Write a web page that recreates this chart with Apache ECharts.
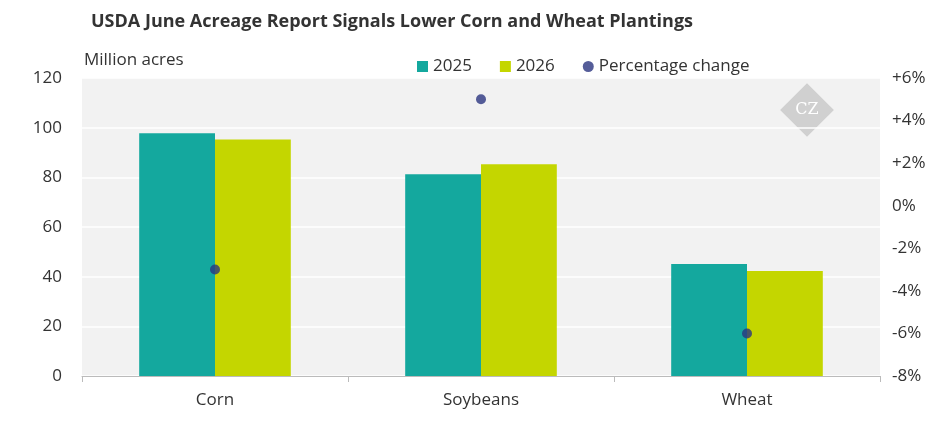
<!DOCTYPE html>
<html>
<head>
<meta charset="utf-8">
<script src="https://cdn.jsdelivr.net/npm/echarts@6/dist/echarts.min.js"></script>
<style>html,body{margin:0;padding:0;background:#fff}#main{width:945px;height:443px}</style>
</head>
<body>
<div id="main"></div>
<script>
// data
var categories = ['Corn', 'Soybeans', 'Wheat'];
var acres2025 = [97.8, 81.2, 45.1];
var acres2026 = [95.2, 85.3, 42.3];
var pctChange = [-3, 5, -6];

var chart = echarts.init(document.getElementById('main'));
var font = '"Open Sans", "Noto Sans", sans-serif';
var option = {
    textStyle: {fontFamily: font},
    title: {
        text: 'USDA June Acreage Report Signals Lower Corn and Wheat Plantings',
        left: 86, top: 8,
        textStyle: {fontSize: 18, fontWeight: 'bold', color: '#333', fontFamily: font}
    },
    legend: {
        left: 412, top: 53, itemGap: 28, itemWidth: 11, itemHeight: 11,
        textStyle: {fontSize: 17, color: '#333', fontFamily: font},
        data: [{name: '2025', icon: 'rect'}, {name: '2026', icon: 'rect'}, {name: 'Percentage change', icon: 'circle'}]
    },
    graphic: [
        {type: 'text', left: 84, top: 52, style: {text: 'Million acres', fontSize: 17, fill: '#333', fontFamily: font}},
        {type: 'rect', x: 807, y: 110, rotation: Math.PI / 4, shape: {x: -19, y: -19, width: 38, height: 38}, style: {fill: '#d0d0d0'}},
        {type: 'text', x: 807, y: 110, style: {text: 'CZ', fontSize: 16, fill: '#fff', align: 'center', verticalAlign: 'middle', fontFamily: 'DejaVu Serif'}}
    ],
    grid: {left: 82, right: 65, top: 78, bottom: 67, show: true, backgroundColor: '#f2f2f2', borderWidth: 0},
    xAxis: {
        type: 'category', data: categories,
        axisLine: {lineStyle: {color: '#bbb'}},
        axisTick: {show: true, length: 6, lineStyle: {color: '#bbb'}},
        axisLabel: {fontSize: 17, color: '#333', margin: 16}
    },
    yAxis: [
        {type: 'value', min: 0, max: 120, interval: 20,
         splitLine: {lineStyle: {color: '#fff', width: 1.5}},
         axisLabel: {fontSize: 17, color: '#333', margin: 20}},
        {type: 'value', min: -8, max: 6, interval: 2,
         splitLine: {show: false},
         axisLabel: {fontSize: 17, color: '#333', margin: 12,
             formatter: function (v) { return (v > 0 ? '+' : '') + v + '%'; }}}
    ],
    series: [
        {name: '2025', type: 'bar', data: acres2025, barGap: '0%', barCategoryGap: '43%', itemStyle: {color: '#14a89e'}},
        {name: '2026', type: 'bar', data: acres2026, itemStyle: {color: '#c4d600'}},
        {name: 'Percentage change', type: 'scatter', yAxisIndex: 1, data: pctChange, symbolSize: 10, itemStyle: {color: '#2b3480'}}
    ]
};
chart.setOption(option);
</script>
</body>
</html>
